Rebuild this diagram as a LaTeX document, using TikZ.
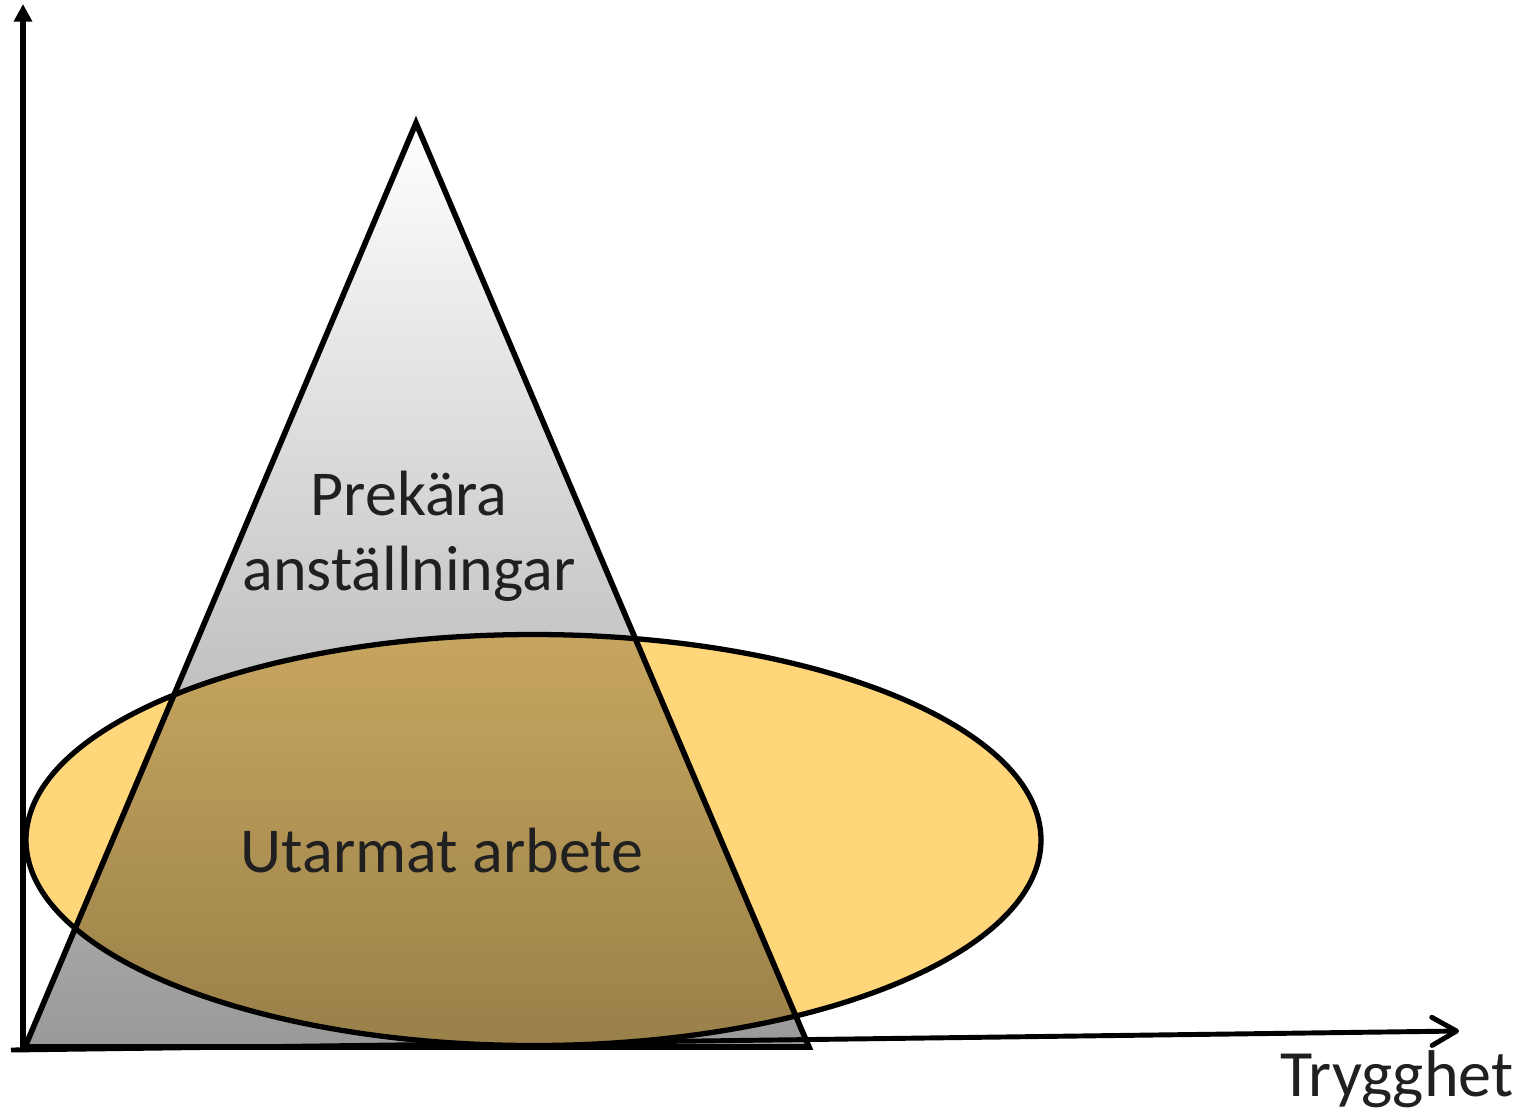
\documentclass[tikz,border=0pt]{standalone}
\usepackage{fontspec}
\setmainfont{Carlito}
\usetikzlibrary{arrows.meta}
\definecolor{ellfill}{RGB}{255,214,122}
\definecolor{txt}{RGB}{32,32,32}

\begin{document}
\begin{tikzpicture}[x=0.01cm,y=-0.01cm,
	    lbl/.style={font=\fontsize{18.2}{21.2}\selectfont,text=txt,inner sep=0pt,align=center}]
	    \useasboundingbox (0,0) rectangle (1524,1117);
	    % axes
	    \coordinate (o) at (23,1050);
	    \coordinate (ytip) at (23,4);
	    \coordinate (xstart) at (11,1050);
	    \coordinate (xtip) at (1459,1031);
	    \draw[black,line width=1.7pt,-{Triangle[length=5pt,width=5pt]}] (o) -- (ytip);
	    \draw[black,line width=1.4pt,-{Straight Barb[length=7pt,width=8pt,round]}] (xstart) -- (xtip);
	    % ellipse
	    \draw[black,line width=1.5pt,fill=ellfill] (533.5,840) ellipse [x radius=507.5,y radius=205.5];
	    % triangle
	    \coordinate (apex) at (416,123);
	    \coordinate (bl) at (25,1047);
	    \coordinate (br) at (809,1047);
	    \begin{scope}[blend mode=multiply]
	    \shade[top color=white,bottom color=black!40] (apex) -- (bl) -- (br) -- cycle;
	    \end{scope}
	    \draw[black,line width=1.6pt,line join=miter] (apex) -- (bl) -- (br) -- cycle;
	    \node[lbl,anchor=base] (prek) at (409,590) {Prekära\\anställningar};
	    \node[lbl,anchor=base] (utarm) at (442,872) {Utarmat arbete};
	    \node[lbl,anchor=base,font=\fontsize{18.8}{22}\selectfont] (tryg) at (1397,1096) {Trygghet};
\end{tikzpicture}
\end{document}
